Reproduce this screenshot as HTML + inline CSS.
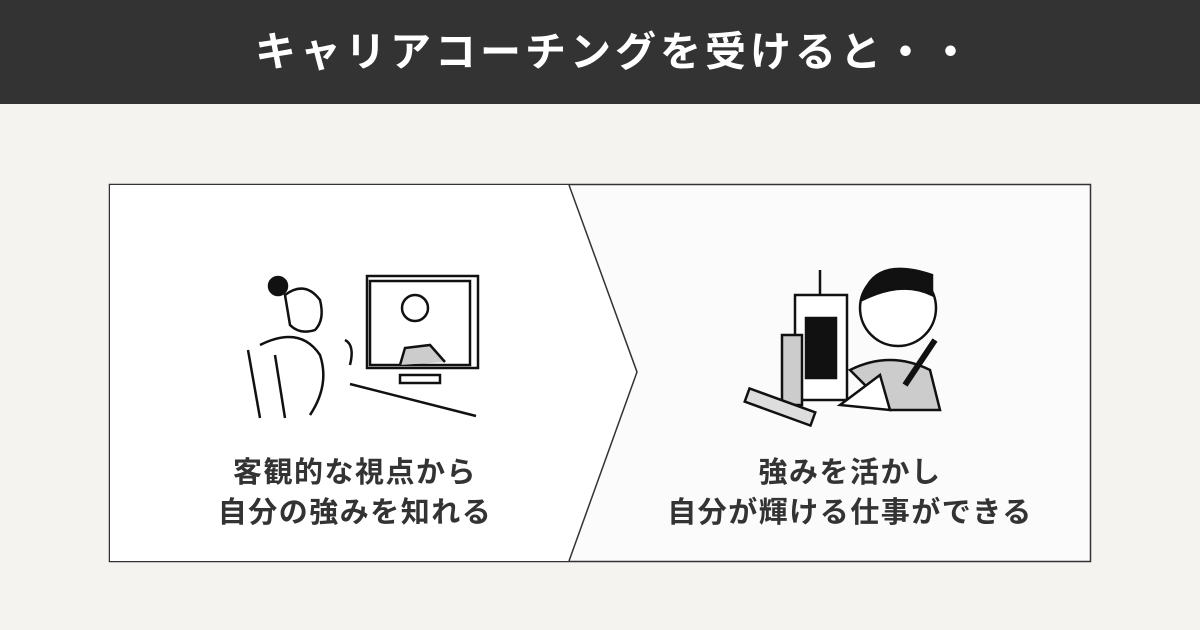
<!DOCTYPE html>
<html><head><meta charset="utf-8"><style>
body{margin:0;width:1200px;height:630px;background:#f4f3ef;position:relative;overflow:hidden;font-family:"Liberation Sans","Noto Sans CJK JP",sans-serif;}
.hd{position:absolute;left:0;top:0;width:1200px;height:104px;background:#333;color:#fff;font-weight:bold;font-size:41px;text-align:center;line-height:104px;letter-spacing:4px;text-indent:30px}
.t{position:absolute;font-weight:bold;font-size:29px;color:#333;text-align:center;line-height:40px;letter-spacing:1.5px}
</style></head><body>
<div class="hd">キャリアコーチングを受けると・・</div>
<svg style="position:absolute;left:0;top:0" width="1200" height="630">
<rect x="109.5" y="184.5" width="981" height="377" fill="#fbfbfb" stroke="#333" stroke-width="1.5"/>
<polygon points="110,185 569,185 637,372 569,561 110,561" fill="#fff"/>
<polyline points="569,185 637,372 569,561" fill="none" stroke="#333" stroke-width="1.5"/>
<g stroke="#111" stroke-width="2.5" fill="none">
<rect x="367" y="276" width="111" height="92" fill="#fff"/>
<rect x="370" y="281" width="100" height="84" fill="#fff"/>
<circle cx="415" cy="308" r="13" fill="#fff"/>
<path d="M400,365 L405,348 L430,345 L445,362" fill="#ccc"/>
<rect x="400" y="375" width="40" height="8" fill="#fff"/>
<line x1="350" y1="384" x2="476" y2="416"/>
<circle cx="278" cy="286" r="9" fill="#111"/>
<path d="M285,295 q20,-15 35,5 q5,20 -5,30 q-15,5 -25,-5 z" fill="#fff"/>
<path d="M260,345 q40,-20 60,10 q10,30 -10,60"/>
<line x1="248" y1="350" x2="260" y2="418"/><line x1="275" y1="355" x2="285" y2="418"/>
<path d="M345,340 q10,5 5,25"/>
</g>
<g stroke="#111" stroke-width="2.5" fill="none">
<rect x="795" y="295" width="52" height="105" fill="#fff"/>
<rect x="806" y="318" width="30" height="60" fill="#111"/>
<rect x="782" y="335" width="20" height="70" fill="#ccc"/>
<line x1="820" y1="270" x2="820" y2="295"/>
<circle cx="898" cy="308" r="38" fill="#fff"/>
<path d="M862,300 q10,-45 70,-25 l0,20 q-30,-15 -70,5z" fill="#111"/>
<path d="M850,370 q40,-20 80,0 l10,40 l-50,0 z" fill="#ccc"/>
<path d="M840,405 l40,-30 l10,35 z" fill="#fff"/>
<line x1="905" y1="385" x2="935" y2="340" stroke-width="6"/>
<rect x="745" y="400" width="70" height="14" fill="#ddd" transform="rotate(20 780 407)"/>
</g>
</svg>
<div class="t" style="left:155px;top:453px;width:400px">客観的な視点から<br>自分の強みを知れる</div>
<div class="t" style="left:625px;top:453px;width:450px">強みを活かし<br>自分が輝ける仕事ができる</div>
</body></html>
